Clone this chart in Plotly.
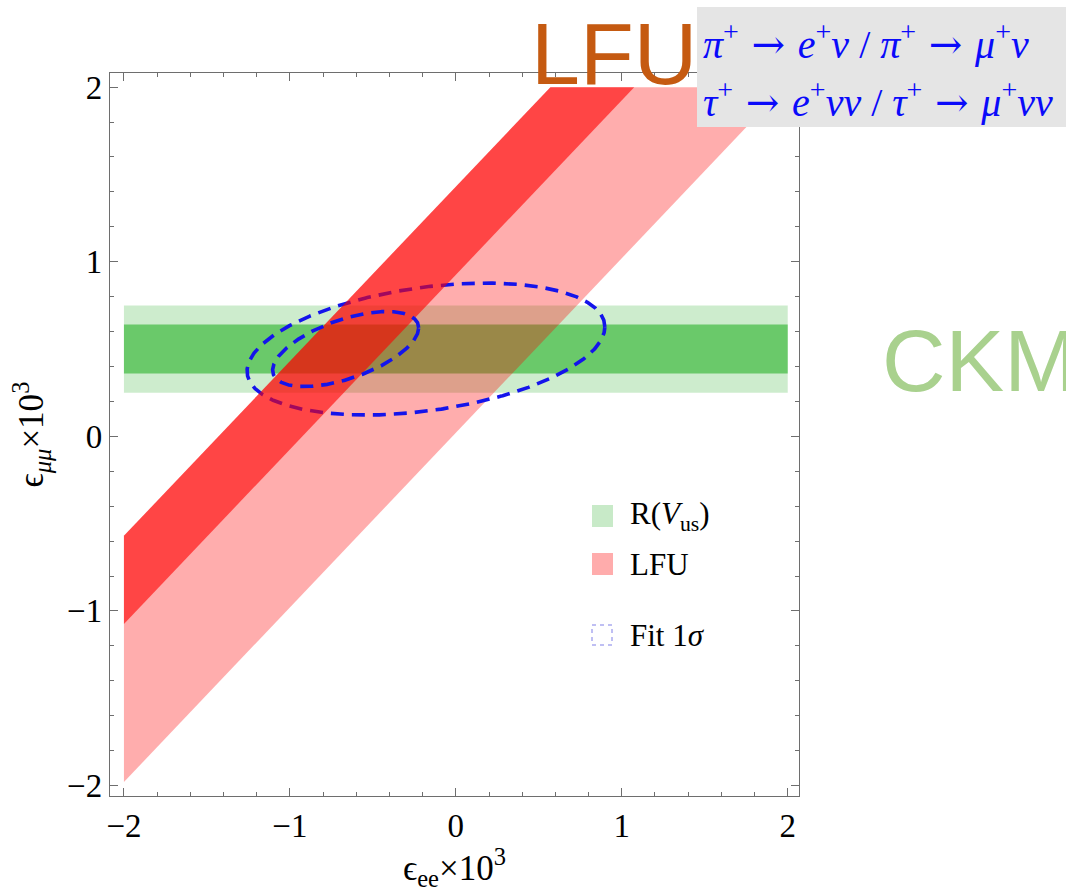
import numpy as np
import plotly.graph_objects as go

# ---------------- data ----------------
x_tick_vals = [-2, -1, 0, 1, 2]
y_tick_vals = [-2, -1, 0, 1, 2]
region_lo, region_hi = -2.0, 2.0          # plotted region in both coordinates

# R(V_us) horizontal bands in eps_mumu (x10^3)
rvus_outer = [0.25, 0.75]
rvus_inner = [0.36, 0.64]

# LFU diagonal bands: eps_mumu - eps_ee intercepts (x10^3)
lfu_wide = [0.02, 1.43]
lfu_narrow = [0.925, 1.43]

# 1-sigma fit ellipses: centre, sigmas, correlation
fit_outer_center = [-0.18, 0.50]
fit_outer_sigma = [1.078, 0.378]
fit_outer_rho = 0.335
fit_inner_center = [-0.664, 0.50]
fit_inner_sigma = [0.44, 0.215]
fit_inner_rho = 0.565

legend_labels = ["R(<i>V</i><sub>us</sub>)", "LFU", "Fit 1<i>σ</i>"]
ARROW = "<span style='font-family:DejaVu Serif'> → </span>"
formula_lines = [
    "<i>π</i><sup>+</sup>" + ARROW + "<i>e</i><sup>+</sup><i>ν</i> / <i>π</i><sup>+</sup>" + ARROW
    + "<i>μ</i><sup>+</sup><i>ν</i>",
    "<i>τ</i><sup>+</sup>" + ARROW + "<i>e</i><sup>+</sup><i>νν</i> / <i>τ</i><sup>+</sup>" + ARROW
    + "<i>μ</i><sup>+</sup><i>νν</i>",
]

# ---------------- layout geometry ----------------
W, H = 1066, 892
PL, PR, PT, PB = 110, 799, 73, 796
x_range = [-2.084, 2.068]
y_range = [-2.06, 2.081]


def xp(px):
    return (px - PL) / (PR - PL)


def yp(py):
    return (PB - py) / (PB - PT)


def hband(lims):
    y0, y1 = lims
    return ([region_lo, region_hi, region_hi, region_lo, region_lo],
            [y0, y0, y1, y1, y0])


def dband(lims):
    c1, c2 = lims
    xs = [region_lo, region_hi - c1, region_hi - c2, region_lo, region_lo]
    ys = [region_lo + c1, region_hi, region_hi, region_lo + c2, region_lo + c1]
    return xs, ys


def ellipse(center, sigma, rho, n=720):
    t = np.linspace(0, 2 * np.pi, n)
    x = center[0] + sigma[0] * np.cos(t)
    y = center[1] + sigma[1] * (rho * np.cos(t) + np.sqrt(1 - rho ** 2) * np.sin(t))
    return x, y


fig = go.Figure()


def add_fill(xy, color):
    fig.add_trace(go.Scatter(x=xy[0], y=xy[1], mode="lines", fill="toself",
                             fillcolor=color, line=dict(width=0),
                             hoverinfo="skip", showlegend=False))


def add_ellipse(xy):
    fig.add_trace(go.Scatter(x=xy[0], y=xy[1], mode="lines",
                             line=dict(color="rgb(20,20,235)", width=3.6, dash="13px,8px"),
                             hoverinfo="skip", showlegend=False))


add_fill(hband(rvus_outer), "rgba(70,185,70,0.27)")
add_fill(hband(rvus_inner), "rgba(35,175,35,0.58)")
add_fill(dband(lfu_wide), "rgba(255,0,0,0.32)")
add_ellipse(ellipse(fit_outer_center, fit_outer_sigma, fit_outer_rho))
add_fill(dband(lfu_narrow), "rgba(255,0,0,0.6)")
add_ellipse(ellipse(fit_inner_center, fit_inner_sigma, fit_inner_rho))

serif = "Liberation Serif, Times New Roman, serif"
sans = "Liberation Sans, Arial, sans-serif"
axcol = "#6e6e6e"

axis_common = dict(showline=True, linecolor=axcol, linewidth=1.4, mirror="allticks",
                   ticks="inside", ticklen=8, tickwidth=1, tickcolor=axcol,
                   showgrid=False, zeroline=False, automargin=False,
                   tickfont=dict(family=serif, size=33, color="black"),
                   minor=dict(dtick=0.2, tick0=0, ticks="inside", ticklen=4,
                              tickwidth=1, tickcolor=axcol, showgrid=False))

fig.update_xaxes(range=x_range, tickvals=x_tick_vals, **axis_common,
                 title=dict(text="ϵ<sub>ee</sub>×10<sup>3</sup>",
                            font=dict(family=serif, size=35, color="black"), standoff=2))
fig.update_yaxes(range=y_range, tickvals=y_tick_vals, **axis_common,
                 title=dict(text="ϵ<sub><i>μμ</i></sub>×10<sup>3</sup>",
                            font=dict(family=serif, size=35, color="black"), standoff=12))

shapes = []
annotations = []

# grey formula box
shapes.append(dict(type="rect", xref="paper", yref="paper", layer="above",
                   x0=xp(697), x1=xp(1080), y0=yp(127), y1=yp(7),
                   fillcolor="rgb(229,229,229)", line=dict(width=0)))
annotations.append(dict(xref="paper", yref="paper", x=xp(701), y=yp(42),
                        xanchor="left", yanchor="middle", showarrow=False,
                        text=formula_lines[0],
                        font=dict(family=serif, size=40, color="rgb(10,10,250)")))
annotations.append(dict(xref="paper", yref="paper", x=xp(701), y=yp(100),
                        xanchor="left", yanchor="middle", showarrow=False,
                        text=formula_lines[1],
                        font=dict(family=serif, size=40, color="rgb(10,10,250)")))

# big labels
annotations.append(dict(xref="paper", yref="paper", x=xp(614), y=yp(53),
                        xanchor="center", yanchor="middle", showarrow=False,
                        text="LFU", font=dict(family=sans, size=88, color="#C55A11")))
annotations.append(dict(xref="paper", yref="paper", x=xp(880), y=yp(360),
                        xanchor="left", yanchor="middle", showarrow=False,
                        text="CKM", font=dict(family=sans, size=88, color="#A9D18E")))

# manual legend
sw_x0, sw_x1 = 592, 613
legend_rows = [(516, "rgb(200,234,200)"), (564, "rgb(255,172,172)"), (635, None)]
for (cy, col), lab in zip(legend_rows, legend_labels):
    if col is not None:
        shapes.append(dict(type="rect", xref="paper", yref="paper", layer="above",
                           x0=xp(sw_x0), x1=xp(sw_x1), y0=yp(cy + 11), y1=yp(cy - 11),
                           fillcolor=col, line=dict(width=0)))
    else:
        shapes.append(dict(type="rect", xref="paper", yref="paper", layer="above",
                           x0=xp(sw_x0), x1=xp(sw_x1 - 1), y0=yp(cy + 10), y1=yp(cy - 10),
                           fillcolor="rgba(0,0,0,0)",
                           line=dict(width=1.5, color="rgb(170,170,240)", dash="4px,4px")))
    annotations.append(dict(xref="paper", yref="paper", x=xp(628), y=yp(cy),
                            xanchor="left", yanchor="middle", showarrow=False,
                            text=lab, font=dict(family=serif, size=31, color="black")))

fig.update_layout(width=W, height=H, autosize=False,
                  margin=dict(l=PL, r=W - PR, t=PT, b=H - PB, pad=0),
                  paper_bgcolor="white", plot_bgcolor="white",
                  shapes=shapes, annotations=annotations, showlegend=False)

fig.write_html("out.html")
